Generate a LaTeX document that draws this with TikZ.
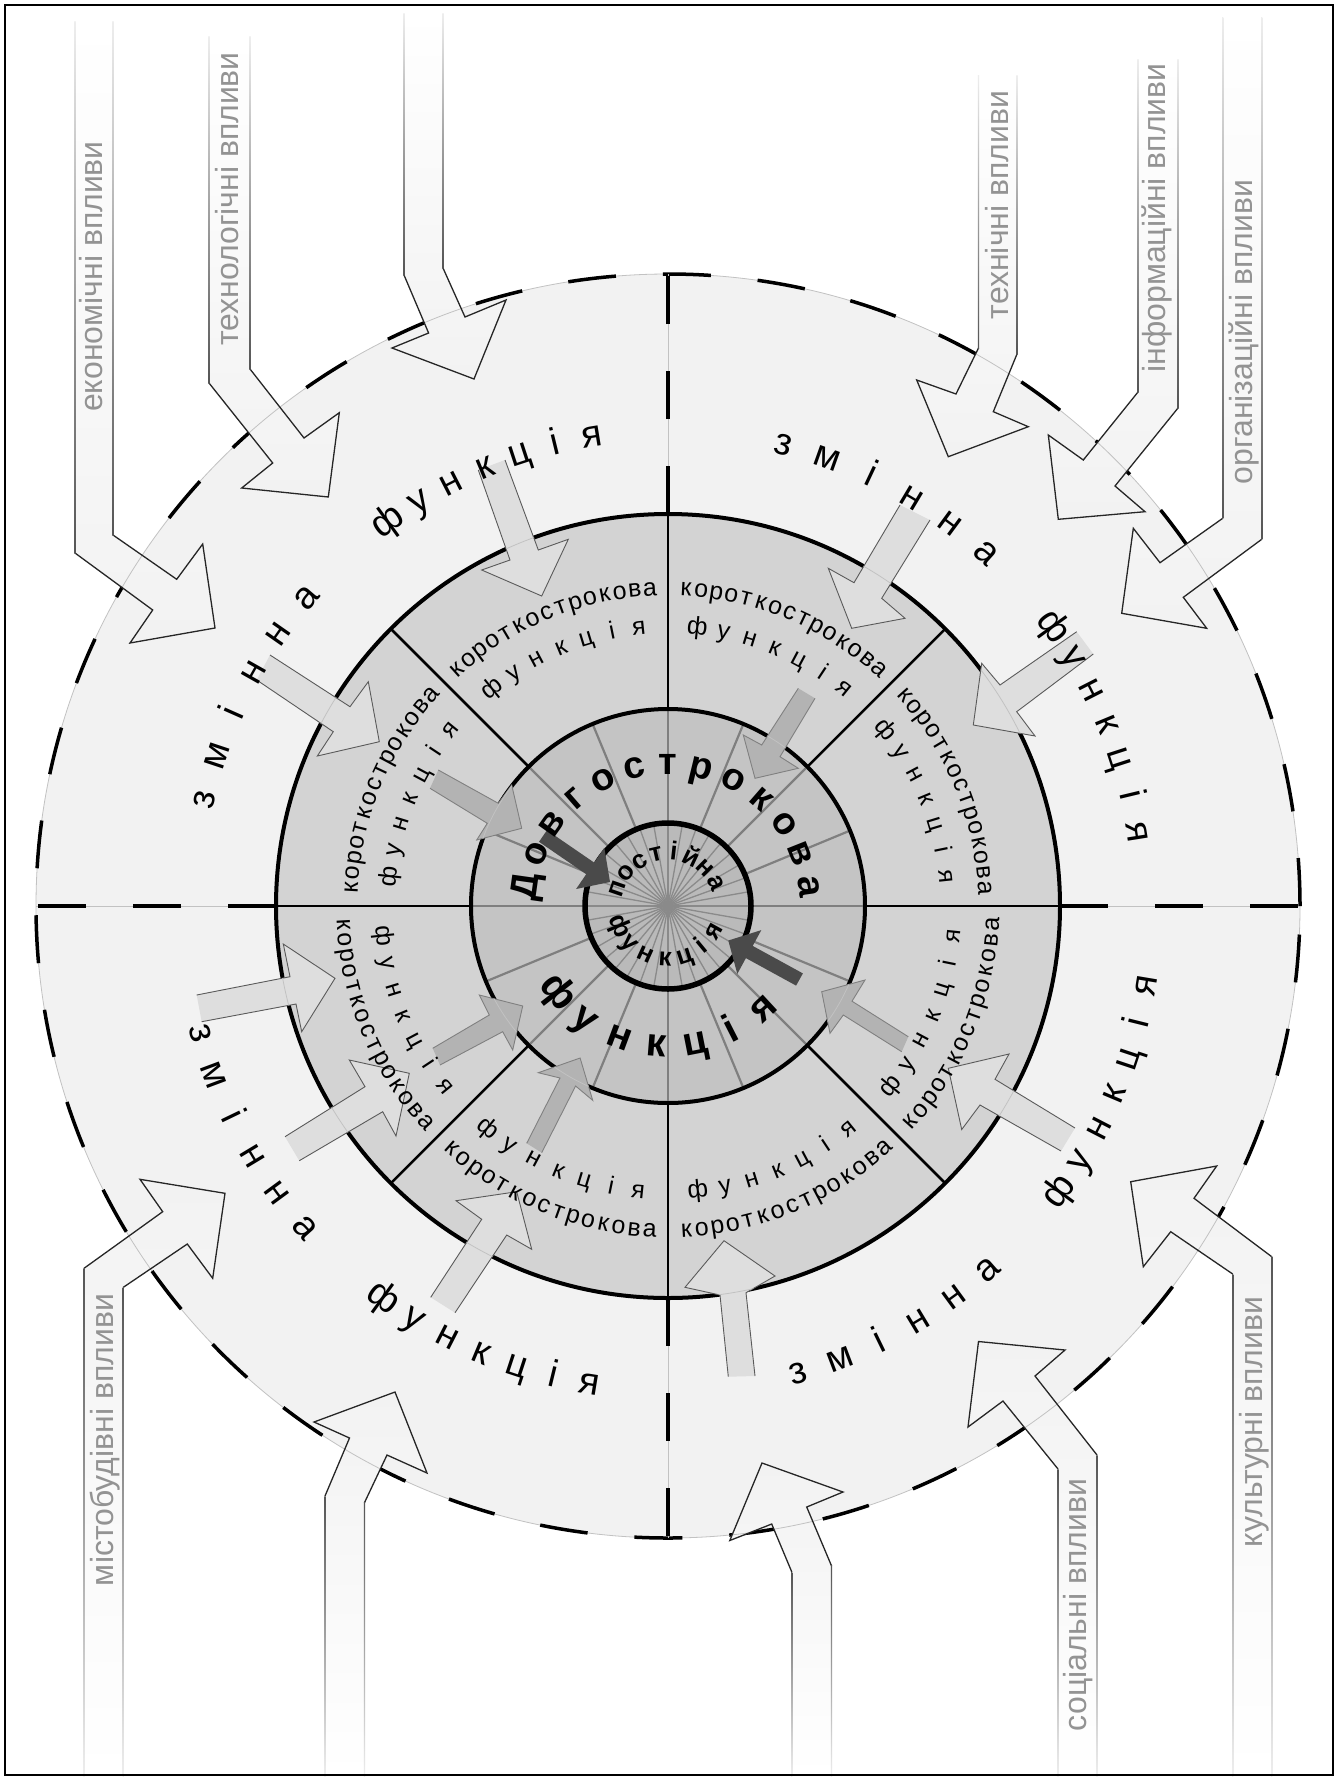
\documentclass[tikz,border=0pt]{standalone}
\usepackage{fontspec}
\setmainfont{Liberation Sans}
\definecolor{ringO}{HTML}{F2F2F2}
\definecolor{ringS}{HTML}{D3D3D3}
\definecolor{ringL}{HTML}{C4C4C4}
\definecolor{ringI}{HTML}{BABABA}
\definecolor{lgray}{HTML}{7F7F7F}
\definecolor{raygray}{HTML}{8A8A8A}
\definecolor{bigfill}{HTML}{F2F2F2}
\definecolor{edgegray}{HTML}{555555}
\definecolor{edgetop}{HTML}{EEEEEE}
\definecolor{labgray}{HTML}{939393}
\definecolor{mfill}{HTML}{DEDEDE}
\definecolor{mline}{HTML}{5A5A5A}
\definecolor{dfill}{HTML}{B3B3B3}
\definecolor{dline}{HTML}{808080}
\definecolor{kfill}{HTML}{4A4A4A}
\definecolor{thingray}{HTML}{C2C2C2}
\tikzset{
 letter/.style={anchor=base, inner sep=0pt, outer sep=0pt},
 outerfont/.style={font=\fontsize{38}{38}\selectfont},
 shortfont/.style={font=\fontsize{25}{25}\selectfont},
 longfont/.style={font=\fontsize{38}{38}\selectfont\bfseries},
 longfontb/.style={font=\fontsize{40}{40}\selectfont\bfseries},
 innerfont/.style={font=\fontsize{26}{26}\selectfont\bfseries},
 shaftlabel/.style={font=\fontsize{32}{32}\selectfont, text=labgray, rotate=90, anchor=base, inner sep=0pt},
 thinring/.style={draw=thingray, line width=0.8pt},
 dashline/.style={draw=black, line width=3.5pt, dash pattern=on 48pt off 47pt},
 headline/.style={draw=black!85, line width=1.3pt, line join=miter},
 midarrow/.style={fill=mfill, draw=mline, line width=0.9pt},
 darrow/.style={fill=dfill, draw=dline, line width=0.9pt},
}
% letters along an arc (visual angles, degrees)
\newcommand\arcword[7]{%
  \foreach \ch [count=\i from 0] in {#7} {%
    \pgfmathsetmacro\ang{#3+\i*(#4)}%
    \pgfmathsetmacro\rot{\ang+(#5)}%
    \pgfmathsetmacro\nang{-\ang}%
    \node[letter, #6, rotate=\rot] (#1-\i) at (\nang:#2) {\ch};%
  }%
}
% big influence arrows coming from the top
\newcommand\bigtop[6]{%
  \shade[top color=white, bottom color=bigfill] (#1,#3) -- (#1,#4) -- #6 -- (#2,#5) -- (#2,#3) -- cycle;
  \begin{scope}
    \clip (#1,#3) -- (#1,#4) -- #6 -- (#2,#5) -- (#2,#3) -- cycle;
    \draw[thinring] (668,906) circle[radius=632pt];
  \end{scope}
  \draw[headline] (#1,#4) -- #6 -- (#2,#5);
  \shade[top color=edgetop, bottom color=edgegray] (#1-0.6,#3) rectangle (#1+0.6,#4);
  \shade[top color=edgetop, bottom color=edgegray] (#2-0.6,#3) rectangle (#2+0.6,#5);
}
% big influence arrows coming from the bottom
\newcommand\bigbot[6]{%
  \shade[top color=bigfill, bottom color=white] (#1,#3) -- (#1,#4) -- #6 -- (#2,#5) -- (#2,#3) -- cycle;
  \begin{scope}
    \clip (#1,#3) -- (#1,#4) -- #6 -- (#2,#5) -- (#2,#3) -- cycle;
    \draw[thinring] (668,906) circle[radius=632pt];
  \end{scope}
  \draw[headline] (#1,#4) -- #6 -- (#2,#5);
  \shade[top color=edgegray, bottom color=edgetop] (#1-0.6,#4) rectangle (#1+0.6,#3);
  \shade[top color=edgegray, bottom color=edgetop] (#2-0.6,#5) rectangle (#2+0.6,#3);
}
\newcommand\innerarrow[3]{%
  \path[#1] #3;
  \begin{scope}
    \clip #3;
    \draw[thinring] (668,906) circle[radius=#2pt];
  \end{scope}
}
\begin{document}
\begin{tikzpicture}[x=1pt,y=-1pt]
\useasboundingbox (0,0) rectangle (1340,1780);
\fill[white] (0,0) rectangle (1340,1780);

% ---------------- rings ----------------
\begin{scope}[shift={(668,906)}]
  \fill[ringO] (0,0) circle[radius=632pt];
  \draw[thinring] (0,0) circle[radius=632pt];
  \draw[dashline] (0,0) circle[radius=632pt];
  \fill[ringS] (0,0) circle[radius=392pt];
  \foreach \a in {0,90,180,270} {
    \draw[thinring] (\a:392) -- (\a:632);
    \draw[dashline] (\a:392) -- (\a:632);
  }
  \fill[ringL] (0,0) circle[radius=197pt];
  \foreach \a in {0,45,...,315} \draw[black, line width=2.5pt] (\a:197) -- (\a:392);
  \foreach \a in {0,22.5,...,337.5} \draw[lgray, line width=2.2pt] (\a:83) -- (\a:197);
  \fill[ringI] (0,0) circle[radius=83pt];
  \foreach \a in {0,10,...,350} \draw[raygray, line width=1.3pt] (0,0) -- (\a:83);
  \draw[line width=4pt] (0,0) circle[radius=392pt];
  \draw[line width=4pt] (0,0) circle[radius=197pt];
  \draw[line width=5.5pt] (0,0) circle[radius=83pt];
\end{scope}

% ---------------- big outer arrows ----------------
\bigtop{75}{113}{21}{553}{535}{(152.7,610) -- (130,643) -- (215,628) -- (202.7,544) -- (176.7,579.3)}
\bigtop{209}{250}{36}{383}{369}{(272.7,463) -- (241.7,488) -- (328.3,497) -- (339.3,412.7) -- (304,438)}
\bigtop{404}{443}{13}{275}{268}{(428.6,333) -- (392,348) -- (474,379) -- (506,300) -- (465,317)}
\bigtop{978.5}{1017}{75}{348}{354}{(956,394) -- (916.7,380) -- (948.3,456.7) -- (1028.3,426.7) -- (993.3,411.7)}
\bigtop{1138}{1178}{59}{392}{408}{(1083.3,460) -- (1048.3,435) -- (1058.3,519.3) -- (1145,511.7) -- (1115,486)}
\bigtop{1222.7}{1261.7}{17}{518.3}{539.3}{(1160,562.7) -- (1133.3,528.3) -- (1121.7,613.3) -- (1206.7,628.3) -- (1183.3,597.3)}
\bigbot{84}{123.3}{1776}{1268.3}{1287.3}{(162.7,1211.7) -- (140,1179.3) -- (225,1193.3) -- (212.7,1278.3) -- (187.3,1244)}
\bigbot{325}{364.5}{1776}{1496}{1502.6}{(349.5,1438) -- (314,1422) -- (395,1392) -- (427,1473) -- (387,1455)}
\bigbot{791.8}{831.5}{1776}{1572}{1565.8}{(771.7,1524) -- (729.8,1540.5) -- (762,1463) -- (843,1492) -- (806.7,1507)}
\bigbot{1058}{1097}{1776}{1469}{1455}{(1003,1401) -- (968,1427) -- (978.5,1341.5) -- (1065,1350) -- (1035,1376)}
\bigbot{1232.7}{1271.7}{1776}{1274}{1256.7}{(1170.7,1231.7) -- (1143.3,1266.7) -- (1130.7,1181.7) -- (1216.7,1166) -- (1194,1198.3)}

% ---------------- medium arrows (outer ring -> short-term ring) ----------------
\innerarrow{midarrow}{392}{(478.3,470) -- (510,560) -- (481.7,570) -- (541.7,596) -- (568.3,539.3) -- (538.3,550) -- (505,460)}
\innerarrow{midarrow}{392}{(900,505) -- (854,582.7) -- (828.3,568.3) -- (851.7,628.3) -- (905,618.3) -- (881.7,598.3) -- (930,520)}
\innerarrow{midarrow}{392}{(270,655) -- (350,706.7) -- (368.3,681.7) -- (379.3,741.7) -- (317.3,756) -- (333.3,731.7) -- (256.7,680)}
\innerarrow{midarrow}{392}{(1076.7,631.7) -- (1000,685) -- (981.7,663.3) -- (973.3,725) -- (1035,736) -- (1016.7,711.7) -- (1093.3,654)}
\innerarrow{midarrow}{392}{(196.7,995) -- (290,976.7) -- (283.3,944) -- (335,978.3) -- (301.7,1031.7) -- (296,1004) -- (201.7,1021.7)}
\innerarrow{midarrow}{392}{(1075,1128) -- (995,1079.3) -- (1009,1054) -- (948.3,1068.3) -- (961.7,1129.5) -- (980,1105) -- (1061,1151)}
\innerarrow{midarrow}{392}{(285,1136.7) -- (365,1086.7) -- (349.3,1060) -- (409.3,1073.3) -- (396,1136) -- (382.7,1111.7) -- (299.3,1160.7)}
\innerarrow{midarrow}{392}{(430.7,1297.3) -- (481.7,1219.3) -- (456,1200.7) -- (516.7,1191.7) -- (531.7,1249.3) -- (506.7,1235) -- (455,1312.7)}
\innerarrow{midarrow}{392}{(728.3,1376.7) -- (720,1295) -- (685,1287.3) -- (724,1240.7) -- (775,1276) -- (746,1292.7) -- (755,1376)}

% ---------------- darker arrows (short-term -> long-term) ----------------
\innerarrow{darrow}{197}{(438.3,770) -- (498.3,803.3) -- (511.7,785) -- (521.7,828.3) -- (476.7,840) -- (487.3,823.3) -- (430,788.3)}
\innerarrow{darrow}{197}{(798.3,688.3) -- (761.7,745) -- (743.3,735) -- (755,778.3) -- (798.3,768.3) -- (780,756.7) -- (815,698.3)}
\innerarrow{darrow}{197}{(432.7,1048.3) -- (489.3,1015) -- (479.3,995) -- (522.7,1006) -- (512.7,1050) -- (502.7,1031.7) -- (440,1065)}
\innerarrow{darrow}{197}{(526.7,1143.3) -- (560,1078) -- (538.3,1072.7) -- (580.1,1058) -- (592.7,1100.3) -- (575.6,1086) -- (541.7,1152.7)}
\innerarrow{darrow}{197}{(908.3,1036.7) -- (852,1001.2) -- (865,980) -- (821.7,991.7) -- (830,1033.3) -- (843.3,1015) -- (901.7,1051.7)}

% ---------------- dark arrows (long-term -> constant) ----------------
\fill[kfill] (547,830.2) -- (594.2,862.6) -- (604.3,847.8) -- (610,882) -- (576.1,889) -- (586.2,874.2) -- (539,841.8) -- cycle;
\fill[kfill] (802.9,973.4) -- (752.7,945.9) -- (761.3,930.1) -- (728.3,940.5) -- (737.3,973.9) -- (745.9,958.1) -- (796.1,985.6) -- cycle;

% ---------------- texts along the rings ----------------
\begin{scope}[shift={(668,906)}]
  % outer ring
  \arcword{tlz}{465}{167.1}{-5.5}{-90}{outerfont}{з,м,і,н,н,а}
  \arcword{tlf}{465}{126.1}{-4.48}{-90}{outerfont}{ф,у,н,к,ц,і,я}
  \arcword{trz}{465}{76}{-5.6}{-90}{outerfont}{з,м,і,н,н,а}
  \arcword{trf}{465}{36}{-4.5}{-90}{outerfont}{ф,у,н,к,ц,і,я}
  \arcword{brz}{495}{-74.4}{5.14}{90}{outerfont}{з,м,і,н,н,а}
  \arcword{brf}{495}{-36.2}{4.45}{90}{outerfont}{ф,у,н,к,ц,і,я}
  \arcword{blz}{495}{195.2}{5.28}{90}{outerfont}{з,м,і,н,н,а}
  \arcword{blf}{495}{234}{4.45}{90}{outerfont}{ф,у,н,к,ц,і,я}
  % short-term ring
  \foreach \m [count=\j] in {22.5,67.5,112.5,157.5} {
    \pgfmathsetmacro\sa{\m+19.25}
    \pgfmathsetmacro\sb{\m+16.5}
    \arcword{ut\j}{310.5}{\sa}{-2.75}{-90}{shortfont}{к,о,р,о,т,к,о,с,т,р,о,к,о,в,а}
    \arcword{uf\j}{272.5}{\sb}{-5.5}{-90}{shortfont}{ф,у,н,к,ц,і,я}
  }
  \foreach \m [count=\j] in {202.5,247.5,292.5,337.5} {
    \pgfmathsetmacro\sa{\m-19.25}
    \pgfmathsetmacro\sb{\m-16.5}
    \arcword{lt\j}{331.5}{\sa}{2.75}{90}{shortfont}{к,о,р,о,т,к,о,с,т,р,о,к,о,в,а}
    \arcword{lf\j}{293.5}{\sb}{5.5}{90}{shortfont}{ф,у,н,к,ц,і,я}
  }
  % long-term ring
  \arcword{dl}{132}{172}{-13.67}{-90}{longfont}{Д,о,в,г,о,с,т,р,о,к,о,в,а}
  \arcword{df}{151}{218}{15.8}{90}{longfontb}{ф,у,н,к,ц,і,я}
  % constant
  \arcword{pc}{46}{161}{-19.3}{-90}{innerfont}{п,о,с,т,і,й,н,а}
  \arcword{pf}{60}{202.5}{21.4}{90}{innerfont}{ф,у,н,к,ц,і,я}
\end{scope}

% ---------------- influence labels ----------------
\node[shaftlabel] (l1) at (102.3,276.5) {економічні впливи};
\node[shaftlabel] (l2) at (238.3,199) {технологічні впливи};
\node[shaftlabel] (l3) at (1008.3,205) {технічні впливи};
\node[shaftlabel] (l4) at (1165.3,218) {інформаційні впливи};
\node[shaftlabel] (l5) at (1252.3,332) {організаційні впливи};
\node[shaftlabel] (l6) at (113.3,1440) {містобудівні впливи};
\node[shaftlabel] (l7) at (1086.3,1605) {соціальні впливи};
\node[shaftlabel] (l8) at (1262.3,1422) {культурні впливи};

% frame
\draw[line width=1.3pt] (5,5) rectangle (1333,1775);
\end{tikzpicture}
\end{document}
